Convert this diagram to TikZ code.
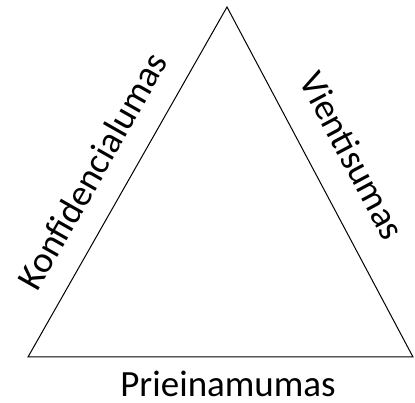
\documentclass[tikz,border=0pt]{standalone}
\usepackage{fontspec}
\setmainfont{Carlito}
\usepackage{tikz}

\begin{document}
\begin{tikzpicture}[x=1pt, y=1pt, every node/.style={font=\fontsize{37}{44}\selectfont, inner sep=1pt}]
				\useasboundingbox (0,0) rectangle (415,403);
				% 三角形顶点
				\coordinate (Top) at (227, 396);
				\coordinate (BL) at (28, 46);
				\coordinate (BR) at (413, 46);
				
				% 三角形
				\draw[line width=1pt, line join=miter] (BL) -- (Top) -- (BR) -- cycle;
				
				% 边上的标签
				\path (BL) -- (Top) node[pos=0.48, sloped, above=22pt] (conf) {Konfidencialumas};
				\path (Top) -- (BR) node[pos=0.48, sloped, above=27pt] (integ) {Vientisumas};
				\node[anchor=base] (avail) at (228, 6) {Prieinamumas};
			\end{tikzpicture}
\end{document}
